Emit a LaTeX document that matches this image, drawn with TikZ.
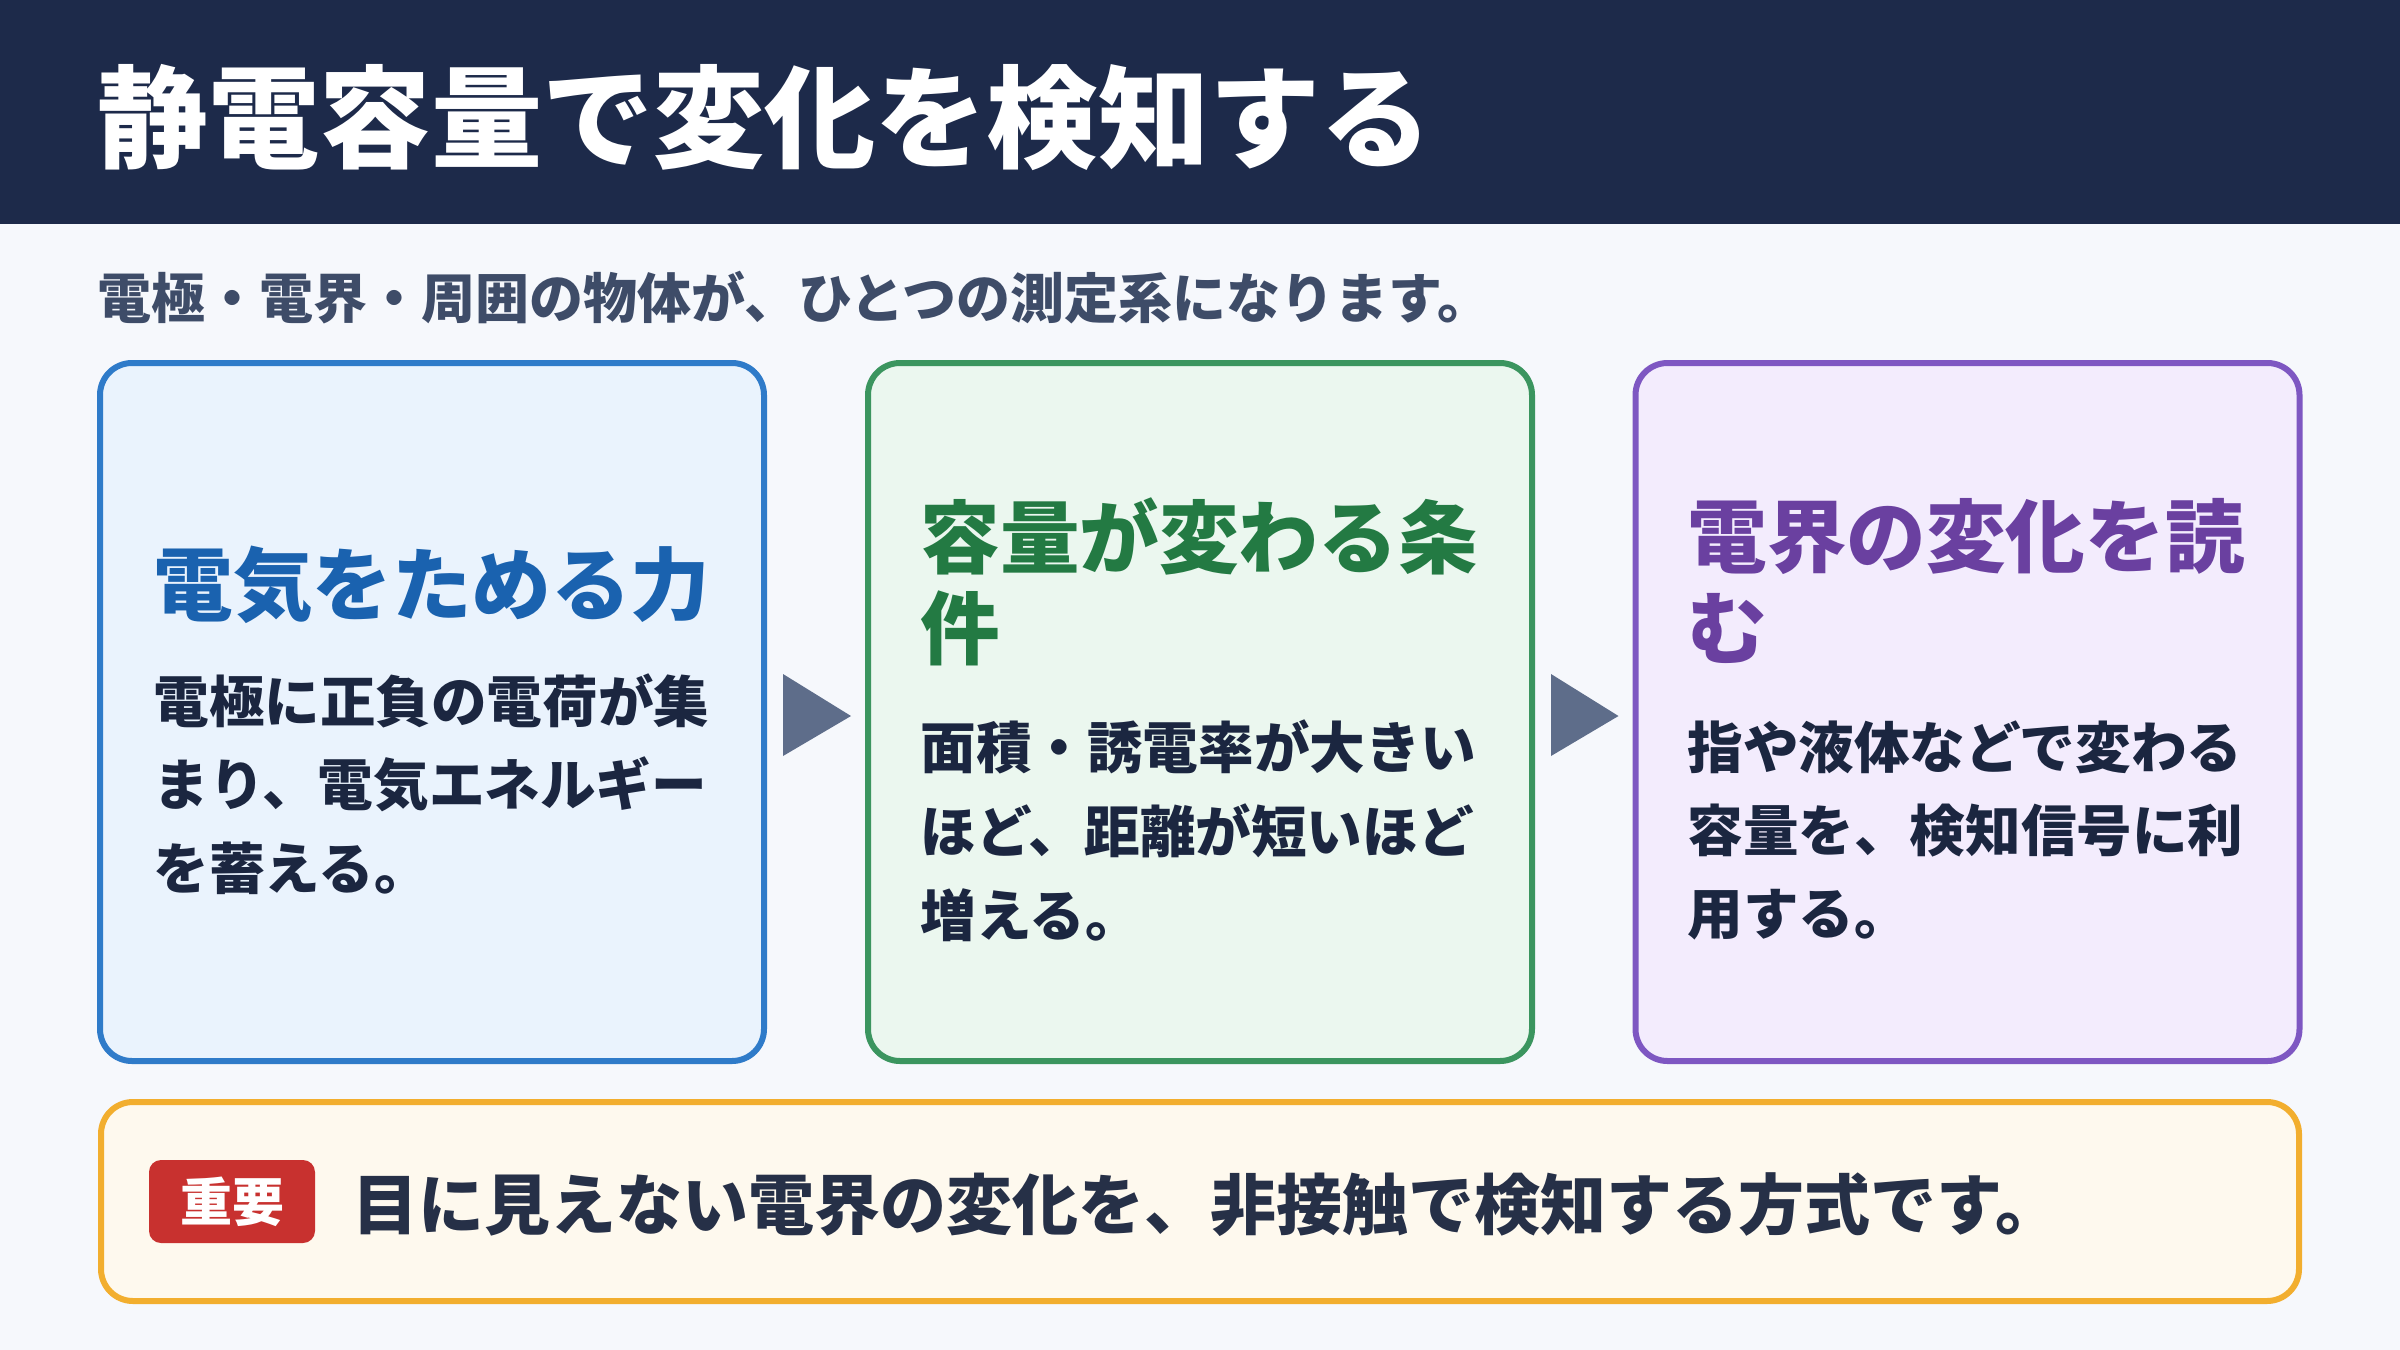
\documentclass[tikz,border=0pt]{standalone}
\usepackage{fontspec}
\setmainfont{Noto Sans CJK JP}
\usetikzlibrary{calc}
\definecolor{bgc}{HTML}{F6F8FC}
\definecolor{titlec}{HTML}{1D2A4A}
\definecolor{subc}{HTML}{3E4C68}
\definecolor{bodyc}{HTML}{1B2640}
\definecolor{arrowc}{HTML}{5E6D8A}
\definecolor{bluefill}{HTML}{EAF3FD}
\definecolor{blueline}{HTML}{2F7BC9}
\definecolor{bluetext}{HTML}{1A62AF}
\definecolor{greenfill}{HTML}{EBF7EF}
\definecolor{greenline}{HTML}{3B955F}
\definecolor{greentext}{HTML}{237A43}
\definecolor{purplefill}{HTML}{F3ECFD}
\definecolor{purpleline}{HTML}{7E57C2}
\definecolor{purpletext}{HTML}{6A40A0}
\definecolor{notefill}{HTML}{FEF9EE}
\definecolor{noteline}{HTML}{F2AE2E}
\definecolor{badgec}{HTML}{C8312F}
\definecolor{notetext}{HTML}{263047}
\begin{document}
\begin{tikzpicture}[x=0.5pt,y=-0.5pt,
  card/.style={draw, line width=3pt, rounded corners=16pt, minimum width=332pt, minimum height=349pt, inner sep=0pt},
  txt/.style={anchor=west, inner sep=0pt},
  headtxt/.style={txt, font=\fontsize{39.8}{39.8}\selectfont\bfseries},
  bodytxt/.style={txt, text=bodyc, font=\fontsize{27.8}{27.8}\selectfont\bfseries},
  arrowtri/.style={fill=arrowc}
]
\useasboundingbox (0,0) rectangle (2400,1350);
\fill[bgc] (0,0) rectangle (2400,1350);
\fill[titlec] (0,0) rectangle (2400,224);
\node[txt, text=white, font=\fontsize{55.6}{55.6}\selectfont\bfseries] (title) at (97,118) {静電容量で変化を検知する};
\node[txt, text=subc, font=\fontsize{27}{27}\selectfont\bfseries] (sub) at (97,298) {電極・電界・周囲の物体が、ひとつの測定系になります。};

% cards
\node[card, draw=blueline, fill=bluefill] (b1) at (432,712) {};
\node[card, draw=greenline, fill=greenfill] (b2) at (1200,712) {};
\node[card, draw=purpleline, fill=purplefill] (b3) at (1967.5,712) {};

% card 1
\node[headtxt, text=bluetext] (h1) at (153,585) {電気をためる力};
\node[bodytxt] (t11) at (153,701) {電極に正負の電荷が集};
\node[bodytxt] (t12) at (153,784) {まり、電気エネルギー};
\node[bodytxt] (t13) at (153,868) {を蓄える。};

% card 2
\node[headtxt, text=greentext] (h21) at (920,536) {容量が変わる条};
\node[headtxt, text=greentext] (h22) at (920,628) {件};
\node[bodytxt] (t21) at (920,747) {面積・誘電率が大きい};
\node[bodytxt] (t22) at (920,831) {ほど、距離が短いほど};
\node[bodytxt] (t23) at (920,915) {増える。};

% card 3
\node[headtxt, text=purpletext] (h31) at (1687,536) {電界の変化を読};
\node[headtxt, text=purpletext] (h32) at (1687,628) {む};
\node[bodytxt] (t31) at (1687,747) {指や液体などで変わる};
\node[bodytxt] (t32) at (1687,831) {容量を、検知信号に利};
\node[bodytxt] (t33) at (1687,915) {用する。};

% arrows between cards
\fill[arrowtri] ($(b1.east)+(16,-38)$) -- ($(b2.west)+(-14,4)$) -- ($(b1.east)+(16,44)$) -- cycle;
\fill[arrowtri] ($(b2.east)+(16,-38)$) -- ($(b3.west)+(-14,4)$) -- ($(b2.east)+(16,44)$) -- cycle;

% note box
\node[draw=noteline, fill=notefill, line width=3pt, rounded corners=16pt, minimum width=1099pt, minimum height=99.5pt, inner sep=0pt] (note) at (1200,1201.5) {};
\node[fill=badgec, rounded corners=6pt, minimum width=83pt, minimum height=41.5pt, inner sep=0pt, text=white, font=\fontsize{26}{26}\selectfont\bfseries] (badge) at (232,1201.5) {重要};
\node[txt, text=notetext, font=\fontsize{33}{33}\selectfont\bfseries] (notet) at (352,1205) {目に見えない電界の変化を、非接触で検知する方式です。};
\end{tikzpicture}
\end{document}
